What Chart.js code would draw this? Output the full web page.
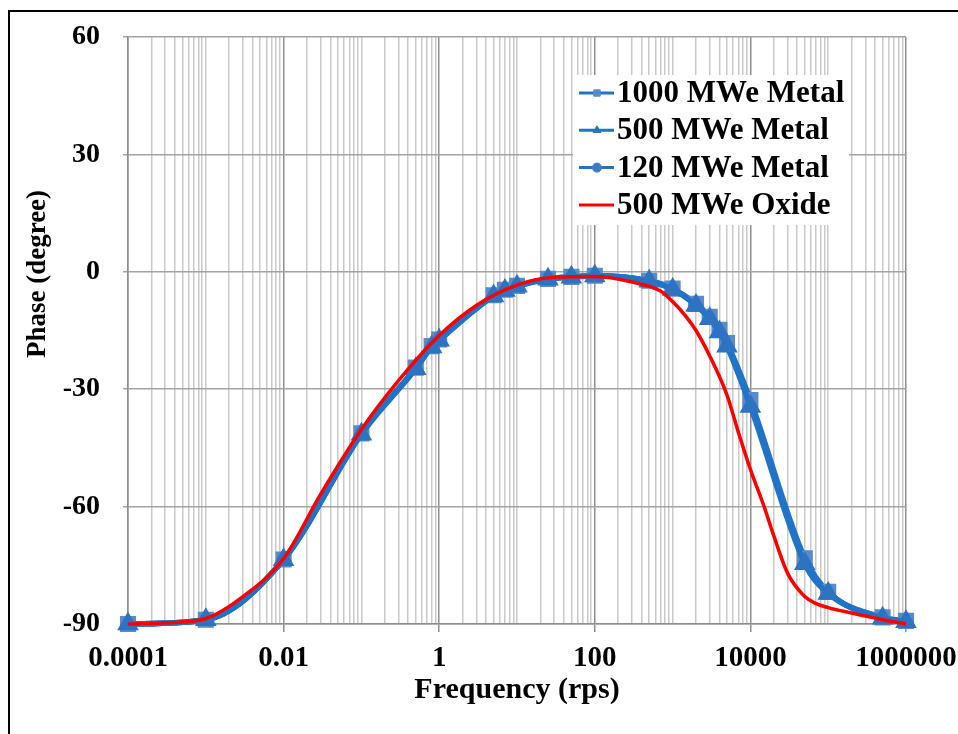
<!DOCTYPE html>
<html>

<head>
    <script src="https://cdn.jsdelivr.net/npm/chart.js@4.4.0/dist/chart.umd.min.js"></script>
    <style>
        body { margin: 0; background: #fff; }
        #frame { position: absolute; left: 8px; top: 10px; width: 980px; height: 760px; border-left: 2px solid #000; border-top: 2px solid #000; }
        #myChart { position: absolute; left: 0; top: 0; }
    </style>
</head>

<body>
    <div id="frame"></div>
    <canvas id="myChart" width="958" height="734"></canvas>
</body>

<script>
    // metal cores: same frequency points for all three
    const freqMetal = [0.0001, 0.001, 0.01, 0.1, 0.5, 0.8, 1, 5, 7, 10, 25, 50, 100, 500, 1000, 2000, 3000, 4000, 5000, 10000, 50000, 100000, 500000, 1000000]
    const phase1000 = [-90, -88.9, -73.5, -41.3, -24.5, -19, -17.3, -6, -4.6, -3.6, -1.8, -1.3, -1.0, -2.3, -4.3, -8.2, -11.5, -14.8, -18.2, -32.8, -73.2, -81.8, -88.3, -89.2]
    const phase500 = [-90, -88.9, -73.6, -41.5, -24.8, -19.2, -17.5, -6.2, -4.8, -3.7, -1.9, -1.4, -1.1, -2.4, -4.5, -8.6, -12, -15.4, -19, -34.4, -74.6, -82.2, -88.5, -89.4]
    const phase120 = [-90, -88.9, -73.5, -41.4, -24.6, -19.1, -17.4, -6.1, -4.7, -3.6, -1.8, -1.3, -1.0, -2.3, -4.4, -8.4, -11.8, -15.1, -18.6, -33.6, -73.9, -82, -88.4, -89.3]

    // oxide core
    const freqOxide = [0.0001, 0.0003, 0.001, 0.003, 0.01, 0.03, 0.1, 0.3, 1, 3, 10, 30, 100, 300, 700, 1000, 1500, 2000, 3000, 5000, 7000, 10000, 15000, 20000, 30000, 50000, 70000, 100000, 200000, 500000, 1000000]
    const phaseOxide = [-90, -89.7, -88.6, -83, -73.3, -56.8, -40.3, -27.8, -16.3, -8.6, -3.4, -1.4, -1.2, -2.6, -4.9, -7.6, -11.5, -15, -21.5, -31.5, -41, -50.5, -60, -67.5, -77, -83, -84.8, -85.8, -87.2, -88.9, -90]

    const seriesNames = ['1000 MWe Metal', '500 MWe Metal', '120 MWe Metal', '500 MWe Oxide']
    const xTickLabels = ['0.0001', '0.01', '1', '100', '10000', '1000000']
    const yTitle = 'Phase (degree)'

    const blueLine = '#1f74c9'
    const fontFam = "'Liberation Serif', 'Times New Roman', serif"

    const toXY = (xs, ys) => xs.map((x, i) => ({ x: x, y: ys[i] }))

    const isLabeled = (v) => xTickLabels.some(l => Math.abs(Math.log10(Number(l)) - Math.log10(v)) < 1e-6)

    // legend drawn inside plot on a white box, plus y axis title (sits above centre in the original)
    const extras = {
        id: 'extras',
        afterDatasetsDraw(chart) {
            const ctx = chart.ctx
            ctx.save()
            ctx.fillStyle = '#fff'
            ctx.fillRect(573, 75, 276, 150)
            const items = [
                { name: seriesNames[0], color: blueLine, mark: 'rect', mcolor: '#5a8bc9' },
                { name: seriesNames[1], color: blueLine, mark: 'triangle', mcolor: '#2e72c2' },
                { name: seriesNames[2], color: blueLine, mark: 'circle', mcolor: '#3d7bc6' },
                { name: seriesNames[3], color: '#ff0000', mark: null }
            ]
            items.forEach((it, i) => {
                const y = 93 + i * 37.3
                ctx.strokeStyle = it.color
                ctx.lineWidth = 3
                ctx.beginPath()
                ctx.moveTo(579, y)
                ctx.lineTo(614, y)
                ctx.stroke()
                if (it.mark) {
                    ctx.fillStyle = it.mcolor
                    ctx.strokeStyle = it.mcolor
                    ctx.lineWidth = 1
                    Chart.helpers.drawPoint(ctx, { pointStyle: it.mark, radius: 4.5, borderWidth: 1 }, 597, y)
                }
                ctx.fillStyle = '#000'
                ctx.font = 'bold 31px ' + fontFam
                ctx.textBaseline = 'middle'
                ctx.fillText(it.name, 617, y + 1)
            })
            // y title
            ctx.translate(38, 274)
            ctx.rotate(-Math.PI / 2)
            ctx.font = 'bold 27px ' + fontFam
            ctx.textAlign = 'center'
            ctx.textBaseline = 'middle'
            ctx.fillText(yTitle, 0, 0)
            ctx.restore()
        }
    }

    const blueSet = (name, ys, style, r, col, ord) => ({
        label: name,
        data: toXY(freqMetal, ys),
        borderColor: blueLine,
        borderWidth: 5.5,
        cubicInterpolationMode: 'monotone',
        pointStyle: style,
        pointRadius: r,
        pointBackgroundColor: col,
        pointBorderColor: col,
        order: ord
    })

    const data = {
        datasets: [
            blueSet(seriesNames[2], phase120, 'circle', 4, '#3d7bc6', 4),
            blueSet(seriesNames[0], phase1000, 'rect', 7.5, '#5a8bc9', 3),
            blueSet(seriesNames[1], phase500, 'triangle', 7, '#2e72c2', 2),
            {
                label: seriesNames[3],
                data: toXY(freqOxide, phaseOxide),
                borderColor: '#ff0000',
                borderWidth: 3.5,
                pointRadius: 0,
                cubicInterpolationMode: 'monotone',
                order: 1
            }]
    }

    const config = {
        type: 'line',
        data: data,
        plugins: [extras],
        options: {
            responsive: false,
            animation: false,
            clip: false,
            layout: { padding: { top: 37, right: 52, left: 0, bottom: 0 } },
            plugins: {
                legend: { display: false },
                tooltip: { enabled: false }
            },
            scales: {
                x: {
                    type: 'logarithmic',
                    min: 0.0001,
                    max: 1000000,
                    afterBuildTicks: (scale) => {
                        const t = []
                        for (let e = -4; e < 6; e++) {
                            for (let m = 1; m < 10; m++) t.push({ value: Number((m * Math.pow(10, e)).toPrecision(6)) })
                        }
                        t.push({ value: 1000000 })
                        scale.ticks = t
                    },
                    afterFit: (scale) => {
                        scale.height = 110
                        scale.paddingLeft = 0
                        scale.paddingRight = 0
                    },
                    grid: {
                        color: (c) => isLabeled(c.tick.value) ? '#8e8e8e' : '#c9c9c9',
                        tickColor: (c) => isLabeled(c.tick.value) ? '#8e8e8e' : 'rgba(0,0,0,0)',
                        lineWidth: 1.5,
                        tickLength: 8
                    },
                    border: { color: '#8e8e8e', width: 1.5 },
                    ticks: {
                        autoSkip: false,
                        maxRotation: 0,
                        padding: 9,
                        color: '#000',
                        font: { family: fontFam, size: 29, weight: 'bold' },
                        callback: (v) => {
                            const hit = xTickLabels.find(l => Math.abs(Math.log10(Number(l)) - Math.log10(v)) < 1e-6)
                            return hit ? hit : ''
                        }
                    },
                    title: {
                        display: true,
                        text: 'Frequency (rps)',
                        color: '#000',
                        font: { family: fontFam, size: 30, weight: 'bold' },
                        padding: { top: 0, bottom: 26 }
                    }
                },
                y: {
                    min: -90,
                    max: 60,
                    afterFit: (scale) => {
                        scale.width = 128
                        scale.paddingTop = 0
                        scale.paddingBottom = 0
                    },
                    grid: { color: '#a3a3a3', lineWidth: 1.5, tickLength: 5 },
                    border: { color: '#8e8e8e', width: 1.5 },
                    ticks: {
                        stepSize: 30,
                        padding: 23,
                        color: '#000',
                        font: { family: fontFam, size: 28, weight: 'bold' }
                    }
                }
            }
        }
    }

    const myChart = new Chart(document.getElementById('myChart'), config)
</script>

</html>
